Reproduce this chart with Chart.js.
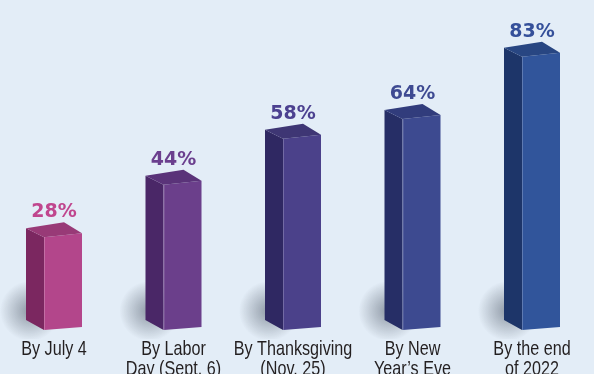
<!DOCTYPE html>
<html>
<head>
<meta charset="utf-8">
<script src="https://cdn.jsdelivr.net/npm/chart.js@4.4.0/dist/chart.umd.min.js"></script>
<style>
  html, body { margin: 0; padding: 0; background: #e3edf7; }
  #wrap { width: 594px; height: 374px; }
</style>
</head>
<body>
<div id="wrap"><canvas id="barChart"></canvas></div>
<script>
// data
var categories = [
  ['By July 4'],
  ['By Labor', 'Day (Sept. 6)'],
  ['By Thanksgiving', '(Nov. 25)'],
  ['By New', 'Year\u2019s Eve'],
  ['By the end', 'of 2022']
];
var shares = [28, 44, 58, 64, 83];
var valueLabels = ['28%', '44%', '58%', '64%', '83%'];

// colours per bar: front, side, top, label
var frontColors = ['#b3468b', '#6b3f8b', '#4b418a', '#3d4a90', '#31559b'];
var sideColors  = ['#7b2760', '#4a2767', '#2f2862', '#262e66', '#1d3569'];
var topColors   = ['#983a77', '#5a3379', '#3e3674', '#313c7c', '#284682'];
var labelColors = ['#c0468e', '#6b3f8e', '#4c4190', '#3e4a92', '#35509a'];

// 3d look (whole block is 56px wide, centred on the category)
var SIDE_L = 28, FRONT_L = 10, FRONT_R = 28, DEPTH_Y = 9, SLOPE = 4;

var bars3d = {
  id: 'bars3d',
  afterDatasetsDraw: function (chart) {
    var ctx = chart.ctx;
    var meta = chart.getDatasetMeta(0);
    meta.data.forEach(function (bar, i) {
      var sx = bar.x - SIDE_L, fx0 = bar.x - FRONT_L, fx1 = bar.x + FRONT_R;
      var top = bar.y, base = bar.base;

      ctx.save();
      // soft shadow at the foot
      var g = ctx.createRadialGradient(sx + 4, base - 18, 2, sx + 4, base - 18, 30);
      g.addColorStop(0, 'rgba(70,80,95,0.5)');
      g.addColorStop(1, 'rgba(70,80,95,0)');
      ctx.fillStyle = g;
      ctx.fillRect(sx - 30, base - 55, 60, 65);

      // side face
      ctx.fillStyle = sideColors[i];
      ctx.beginPath();
      ctx.moveTo(sx, top - DEPTH_Y);
      ctx.lineTo(fx0, top);
      ctx.lineTo(fx0, base + 1);
      ctx.lineTo(sx, base - DEPTH_Y);
      ctx.closePath();
      ctx.fill();

      // front face
      ctx.fillStyle = frontColors[i];
      ctx.beginPath();
      ctx.moveTo(fx0, top);
      ctx.lineTo(fx1, top - SLOPE);
      ctx.lineTo(fx1, base - 2);
      ctx.lineTo(fx0, base + 1);
      ctx.closePath();
      ctx.fill();

      // top face
      ctx.fillStyle = topColors[i];
      ctx.beginPath();
      ctx.moveTo(sx, top - DEPTH_Y);
      ctx.lineTo(fx0, top);
      ctx.lineTo(fx1, top - SLOPE);
      ctx.lineTo(fx1 - (fx0 - sx), top - SLOPE - DEPTH_Y - 2);
      ctx.closePath();
      ctx.fill();

      // thin light edge
      ctx.strokeStyle = 'rgba(255,255,255,0.22)';
      ctx.lineWidth = 1;
      ctx.beginPath();
      ctx.moveTo(fx0 + 0.5, top);
      ctx.lineTo(fx0 + 0.5, base + 1);
      ctx.stroke();

      // value label
      ctx.fillStyle = labelColors[i];
      ctx.font = 'bold 19px "DejaVu Sans", sans-serif';
      ctx.textAlign = 'center';
      ctx.textBaseline = 'alphabetic';
      ctx.fillText(valueLabels[i], bar.x, top - 20);
      ctx.restore();
    });
  },
  afterDraw: function (chart) {
    // category labels in a condensed look
    var ctx = chart.ctx;
    var xs = chart.scales.x;
    ctx.save();
    ctx.fillStyle = '#231f20';
    ctx.font = '21px "Liberation Sans", Arial, sans-serif';
    ctx.textAlign = 'center';
    ctx.textBaseline = 'alphabetic';
    categories.forEach(function (lines, i) {
      var cx = xs.getPixelForValue(i);
      lines.forEach(function (line, j) {
        ctx.save();
        ctx.translate(cx, 355 + j * 20);
        ctx.scale(0.77, 1);
        ctx.fillText(line, 0, 0);
        ctx.restore();
      });
    });
    ctx.restore();
  }
};

var ctx = document.getElementById('barChart').getContext('2d');
var barChart = new Chart(ctx, {
  type: 'bar',
  data: {
    labels: categories,
    datasets: [{
      data: shares,
      backgroundColor: 'rgba(0,0,0,0)',
      borderWidth: 0
    }]
  },
  options: {
    responsive: true,
    maintainAspectRatio: false,
    animation: false,
    layout: { padding: { top: 1, left: 54, right: 62, bottom: 37 } },
    plugins: {
      legend: { display: false },
      tooltip: { enabled: false }
    },
    scales: {
      x: {
        offset: false,
        grid: { display: false },
        border: { display: false },
        ticks: { display: false }
      },
      y: {
        display: false,
        min: 0,
        max: 100
      }
    }
  },
  plugins: [bars3d]
});
</script>
</body>
</html>
